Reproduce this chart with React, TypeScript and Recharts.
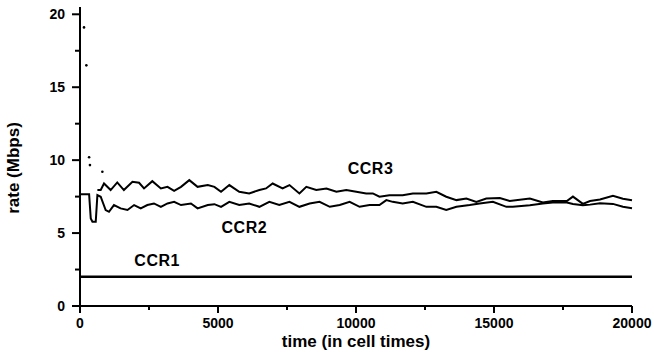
import React from 'react';
import { LineChart, Line, XAxis, YAxis, Label } from 'recharts';

// CCR1 sits flat at ~2 Mbps
const ccr1Time = [0, 5000, 10000, 15000, 20000];
const ccr1Rate = [2.0, 2.0, 2.0, 2.0, 2.0];

const ccr2Time = [
  0, 330, 390, 450, 570, 630, 750, 930, 1050, 1230, 1470, 1720, 1960, 2200, 2440, 2680, 2930, 3170,
  3410, 3660, 4020, 4260, 4630, 4870, 5110, 5410, 5770, 6130, 6500, 6860, 7220, 7590, 7950, 8320,
  8680, 9050, 9410, 9770, 10130, 10490, 10850, 11100, 11330, 11690, 12060, 12550, 12910, 13270,
  13640, 14120, 14480, 14960, 15450, 15680, 16300, 16770, 17130, 17640, 17860, 18220, 18480, 18840,
  19310, 19670, 20000,
];
const ccr2Rate = [
  7.67, 7.67, 6.0, 5.78, 5.78, 7.6, 7.49, 6.58, 6.46, 6.92, 6.69, 6.58, 6.92, 6.69, 6.92, 7.03, 6.8,
  7.03, 7.14, 6.92, 7.03, 6.69, 6.92, 6.98, 6.8, 7.14, 6.92, 7.03, 6.8, 7.14, 6.92, 7.14, 6.8, 7.03,
  7.14, 6.8, 6.92, 7.14, 6.8, 6.92, 6.92, 7.26, 7.14, 7.03, 7.14, 6.8, 6.8, 6.58, 6.8, 6.92, 7.03,
  7.14, 6.8, 6.8, 6.9, 7.03, 7.1, 7.1, 7.0, 6.9, 6.95, 7.05, 7.0, 6.8, 6.7,
];

// start-up transient of CCR3, only a few specks survive in the plot
const ccr3StartTime = [145, 230, 330, 360, 810];
const ccr3StartRate = [19.1, 16.5, 10.2, 9.66, 9.2];

const ccr3Time = [
  630, 750, 870, 1110, 1350, 1590, 1900, 2140, 2320, 2620, 2930, 3170, 3410, 3660, 3960, 4260, 4630,
  4870, 5110, 5410, 5770, 6130, 6500, 6740, 6980, 7340, 7590, 7950, 8200, 8560, 8930, 9290, 9650,
  10010, 10370, 10610, 10850, 11210, 11690, 12060, 12550, 12910, 13270, 13640, 14000, 14360, 14720,
  15210, 15570, 16300, 16770, 17130, 17640, 17860, 18220, 18480, 18840, 19310, 19670, 20000,
];
const ccr3Rate = [
  7.95, 7.95, 8.4, 7.95, 8.47, 7.95, 8.52, 8.45, 8.06, 8.56, 8.06, 8.17, 7.9, 8.17, 8.63, 8.17, 8.29,
  8.17, 7.83, 8.29, 7.83, 7.72, 7.95, 8.06, 8.4, 8.06, 8.29, 7.72, 8.17, 7.95, 8.06, 7.83, 7.95,
  7.83, 7.72, 7.72, 7.49, 7.6, 7.6, 7.72, 7.72, 7.83, 7.49, 7.26, 7.37, 7.14, 7.37, 7.4, 7.2, 7.37,
  7.1, 7.2, 7.2, 7.5, 7.0, 7.2, 7.3, 7.55, 7.35, 7.25,
];

const xTicks = [0, 2500, 5000, 7500, 10000, 12500, 15000, 17500, 20000];
const yTicks = [0, 2.5, 5, 7.5, 10, 12.5, 15, 17.5, 20];
const xMax = 20000;
const yTop = 20.5;

// where the curve names sit, in data units
const labelNames = ['CCR3', 'CCR2', 'CCR1'];
const labelTime = [10526, 5953, 2795];
const labelRate = [9.45, 5.41, 3.15];

const toPoints = (time: number[], rate: number[]) => time.map((t, i) => ({ t, rate: rate[i] }));

// plot box, same numbers as the chart margins below
const W = 654;
const H = 364;
const M = { top: 7, right: 22, bottom: 0, left: 0 };
const Y_AXIS_W = 80;
const X_AXIS_H = 58;
const plotLeft = M.left + Y_AXIS_W;
const plotRight = W - M.right;
const plotTop = M.top;
const plotBottom = H - M.bottom - X_AXIS_H;
const px = (t: number) => plotLeft + (t / xMax) * (plotRight - plotLeft);
const py = (v: number) => plotBottom - (v / yTop) * (plotBottom - plotTop);

const FONT = '"Liberation Sans", Arial, Helvetica, sans-serif';
const titleStyle = { fontFamily: FONT, fontWeight: 'bold', fontSize: 17, fill: '#000' };

const XTick = (props: any) => {
  const { x, y, payload } = props;
  if (payload.value % 5000 !== 0) return <g />;
  return (
    <text x={x} y={y + 22} textAnchor="middle" fontFamily={FONT} fontWeight="bold" fontSize={14} fill="#000">
      {payload.value}
    </text>
  );
};

const YTick = (props: any) => {
  const { x, y, payload } = props;
  if (payload.value % 5 !== 0) return <g />;
  return (
    <text x={x - 15} y={y + 5} textAnchor="end" fontFamily={FONT} fontWeight="bold" fontSize={14} fill="#000">
      {payload.value}
    </text>
  );
};

const SeriesName = (props: any) => {
  const { x, y, index } = props;
  return (
    <text
      key={index}
      x={x}
      y={y + 6}
      textAnchor="middle"
      fontFamily={FONT}
      fontWeight="bold"
      fontSize={16}
      letterSpacing={0.5}
      fill="#000"
    >
      {labelNames[index]}
    </text>
  );
};

// axis frame with major/minor ticks
const AxisFrame = () => (
  <svg width={W} height={H} style={{ position: 'absolute', left: 0, top: 0, pointerEvents: 'none' }}>
    <g stroke="#000" strokeWidth={2} fill="none">
      <path d={`M${plotLeft},${plotTop} V${plotBottom} H${plotRight}`} />
      {xTicks.map((t) => (
        <path key={`x${t}`} d={`M${px(t)},${plotBottom} v${t % 5000 === 0 ? 7 : 4}`} />
      ))}
      {yTicks.map((v) => (
        <path key={`y${v}`} d={`M${plotLeft},${py(v)} h${v % 5 === 0 ? -8 : -5}`} />
      ))}
    </g>
  </svg>
);

export default function App() {
  return (
    <div style={{ position: 'absolute', left: 0, top: 0, width: W, height: H, background: '#fff' }}>
      <LineChart width={W} height={H} margin={M}>
        <XAxis
          type="number"
          dataKey="t"
          domain={[0, xMax]}
          ticks={xTicks}
          interval={0}
          tickSize={0}
          tickMargin={0}
          tickLine={false}
          axisLine={false}
          tick={<XTick />}
          height={X_AXIS_H}
        >
          <Label value="time (in cell times)" position="insideBottom" offset={17} style={titleStyle} />
        </XAxis>
        <YAxis
          type="number"
          domain={[0, yTop]}
          ticks={yTicks}
          interval={0}
          tickSize={0}
          tickMargin={0}
          tickLine={false}
          axisLine={false}
          tick={<YTick />}
          width={Y_AXIS_W}
        />
        <Line data={toPoints(ccr1Time, ccr1Rate)} dataKey="rate" stroke="#000" strokeWidth={2.5} dot={false} isAnimationActive={false} />
        <Line data={toPoints(ccr2Time, ccr2Rate)} dataKey="rate" stroke="#000" strokeWidth={2} dot={false} isAnimationActive={false} />
        <Line data={toPoints(ccr3Time, ccr3Rate)} dataKey="rate" stroke="#000" strokeWidth={2} dot={false} isAnimationActive={false} />
        <Line
          data={toPoints(ccr3StartTime, ccr3StartRate)}
          dataKey="rate"
          stroke="none"
          dot={{ r: 1.3, fill: '#000', stroke: 'none' }}
          isAnimationActive={false}
        />
        <Line
          data={toPoints(labelTime, labelRate)}
          dataKey="rate"
          stroke="none"
          dot={false}
          label={<SeriesName />}
          isAnimationActive={false}
        />
      </LineChart>
      <AxisFrame />
      <div
        style={{
          position: 'absolute',
          left: -46,
          top: 158,
          width: 120,
          height: 20,
          lineHeight: '20px',
          textAlign: 'center',
          transform: 'rotate(-90deg)',
          fontFamily: FONT,
          fontWeight: 'bold',
          fontSize: 17,
          color: '#000',
        }}
      >
        rate (Mbps)
      </div>
    </div>
  );
}
